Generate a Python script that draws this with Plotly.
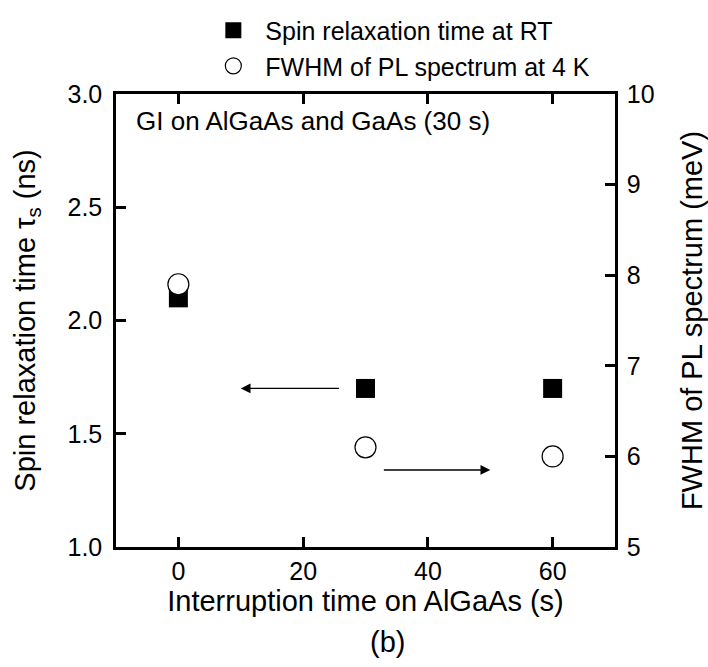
import plotly.graph_objects as go

# Data
interruption_time = [0, 30, 60]
spin_relaxation = [2.10, 1.70, 1.70]   # ns (left axis)
fwhm_pl = [7.9, 6.1, 6.0]              # meV (right axis)

x_ticks = [0, 20, 40, 60]
y_ticks = [1.0, 1.5, 2.0, 2.5, 3.0]
y2_ticks = [5, 6, 7, 8, 9, 10]

FONT = "Liberation Sans, Arial, sans-serif"

fig = go.Figure()

# circles first so squares are drawn above them
fig.add_trace(go.Scatter(
    x=interruption_time, y=fwhm_pl, mode="markers", yaxis="y2",
    name="FWHM of PL spectrum at 4 K", legendrank=2,
    marker=dict(symbol="circle", size=21, color="white",
                line=dict(color="black", width=1.2)),
))
fig.add_trace(go.Scatter(
    x=interruption_time, y=spin_relaxation, mode="markers",
    name="Spin relaxation time at RT", legendrank=1,
    marker=dict(symbol="square", size=19, color="black",
                line=dict(color="black", width=0)),
))

axis_common = dict(
    showline=True, linecolor="black", linewidth=2.5,
    ticks="inside", ticklen=10, tickwidth=2.5, tickcolor="black",
    showgrid=False, zeroline=False, automargin=False,
    tickfont=dict(family=FONT, size=25, color="black"),
)

fig.update_layout(
    width=708, height=667,
    margin=dict(l=116, r=93, t=94, b=120, autoexpand=False),
    paper_bgcolor="white", plot_bgcolor="white",
    font=dict(family=FONT, color="black"),
    showlegend=True,
    legend=dict(
        x=0.171, y=1.012, xref="paper", yref="paper",
        xanchor="left", yanchor="bottom",
        font=dict(family=FONT, size=25, color="black"),
        itemwidth=54, bgcolor="rgba(0,0,0,0)",
        traceorder="normal",
    ),
    xaxis=dict(
        range=[-10, 70], tickvals=x_ticks, ticktext=[str(v) for v in x_ticks],
        mirror="ticks",
        title=dict(text="Interruption time on AlGaAs (s)",
                   font=dict(family=FONT, size=29, color="black"), standoff=6),
        ticklabelstandoff=0,
        **axis_common,
    ),
    yaxis=dict(
        range=[1.0, 3.0], tickvals=y_ticks, ticktext=[f"{v:.1f}" for v in y_ticks],
        title=dict(text="Spin relaxation time τ<sub>s</sub> (ns)",
                   font=dict(family=FONT, size=29, color="black"), standoff=24),
        ticklabelstandoff=6,
        **axis_common,
    ),
    yaxis2=dict(
        range=[5, 10], tickvals=y2_ticks, ticktext=[str(v) for v in y2_ticks],
        overlaying="y", side="right", anchor="x",
        title=dict(text="FWHM of PL spectrum (meV)",
                   font=dict(family=FONT, size=29, color="black"), standoff=35),
        ticklabelstandoff=4,
        **axis_common,
    ),
)

fig.add_annotation(
    x=0.036, y=0.977, xref="paper", yref="paper", xanchor="left", yanchor="top",
    text="GI on AlGaAs and GaAs (30 s)", showarrow=False,
    font=dict(family=FONT, size=26, color="black"),
)
fig.add_annotation(
    x=0.545, y=-0.21, xref="paper", yref="paper", xanchor="center", yanchor="middle",
    text="(b)", showarrow=False,
    font=dict(family=FONT, size=29, color="black"),
)

# arrows pointing to the relevant axes
fig.add_annotation(
    x=10, y=1.70, ax=26, ay=1.70, xref="x", yref="y", axref="x", ayref="y",
    text="", showarrow=True, arrowhead=2, arrowsize=1.5, arrowwidth=1.3,
    arrowcolor="black", startstandoff=0,
)
fig.add_annotation(
    x=50, y=5.85, ax=32.7, ay=5.85, xref="x", yref="y2", axref="x", ayref="y2",
    text="", showarrow=True, arrowhead=2, arrowsize=1.5, arrowwidth=1.3,
    arrowcolor="black", startstandoff=0,
)

fig.write_html("out.html")
